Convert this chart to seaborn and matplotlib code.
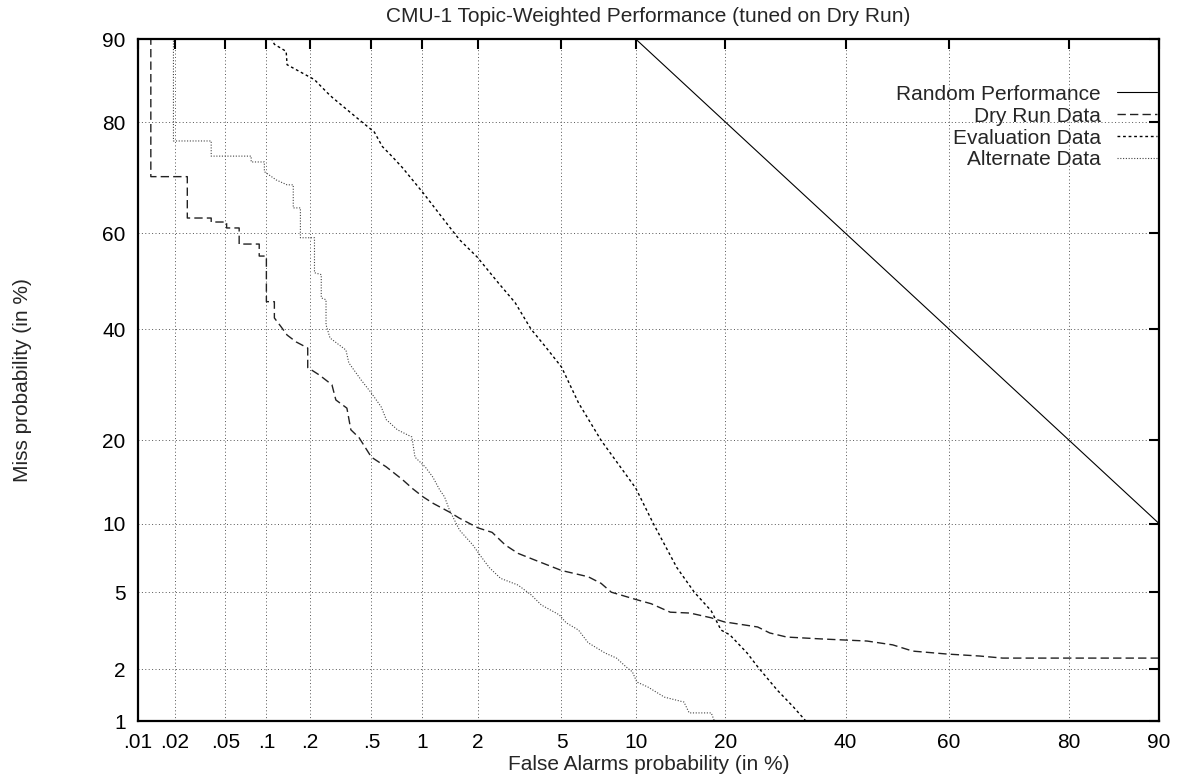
"""DET curve: CMU-1 topic-weighted performance, normal-deviate (probit) axes."""

from statistics import NormalDist

import numpy as np
import matplotlib

matplotlib.use("Agg")
import matplotlib.pyplot as plt
import matplotlib.ticker as mticker
import seaborn as sns

# values in percent
random_fa = [10, 90]
random_miss = [90, 10]

dry_fa = [0.0128, 0.0128, 0.0253, 0.0253, 0.0389, 0.0389, 0.051, 0.051, 0.0633, 0.0633,
          0.0888, 0.0888, 0.1, 0.1, 0.114, 0.114, 0.127, 0.140, 0.162, 0.194,
          0.194, 0.232, 0.281, 0.298, 0.351, 0.372, 0.419, 0.5, 0.616, 0.768,
          0.883, 1.01, 1.15, 1.414, 1.60, 2.0, 2.36, 2.74, 3.16, 3.81,
          5.0, 6.5, 7.34, 8.06, 10.1, 11.4, 13.3, 15.5, 18.1, 19.8,
          24.7, 26.6, 29.4, 35.8, 44.1, 49.1, 53.0, 59.6, 65.7, 69.7, 90]
dry_miss = [99, 71.0, 71.0, 63.1, 63.1, 62.3, 62.3, 61.1, 61.1, 57.8,
            57.8, 55.3, 55.3, 45.7, 45.7, 42.3, 40.5, 38.8, 37.4, 36.2,
            32.4, 31.0, 29.2, 26.5, 25.1, 21.6, 20.4, 17.6, 16.3, 14.7,
            13.6, 12.7, 12.0, 11.1, 10.5, 9.6, 9.2, 8.15, 7.5, 7.0,
            6.3, 5.9, 5.5, 5.0, 4.6, 4.4, 4.0, 3.96, 3.75, 3.58,
            3.37, 3.14, 2.99, 2.92, 2.85, 2.72, 2.52, 2.43, 2.37, 2.31, 2.31]

eval_fa = [0.1, 0.114, 0.138, 0.140, 0.2, 0.215, 0.261, 0.281, 0.321, 0.438,
           0.521, 0.583, 0.669, 0.768, 1.01, 1.414, 1.60, 1.98, 2.54, 3.06,
           3.64, 4.25, 5.0, 5.92, 7.34, 10.0, 11.6, 14.0, 16.0, 18.1,
           19.4, 20.6, 23.1, 24.7, 27.8, 30.5, 32.7]
eval_miss = [91, 89.5, 88.8, 87.4, 86.0, 85.7, 84.1, 83.5, 82.5, 80.0,
             78.5, 76.2, 74.5, 72.6, 68.0, 61.3, 58.7, 55.1, 49.6, 45.5,
             40.0, 36.4, 32.5, 26.0, 20.0, 13.7, 10.0, 6.5, 5.0, 4.06,
             3.25, 3.07, 2.46, 2.07, 1.53, 1.22, 1.0]

alt_fa = [0.0196, 0.0196, 0.0389, 0.0389, 0.0776, 0.0776, 0.0967, 0.0967, 0.1175, 0.140,
          0.1545, 0.1545, 0.173, 0.173, 0.2154, 0.2154, 0.239, 0.239, 0.257, 0.257,
          0.273, 0.346, 0.361, 0.431, 0.5, 0.574, 0.616, 0.717, 0.871, 0.908,
          1.038, 1.146, 1.249, 1.329, 1.414, 1.60, 1.88, 2.04, 2.28, 2.60,
          3.16, 3.64, 4.06, 4.89, 5.24, 5.92, 6.50, 7.62, 8.45, 9.19,
          9.72, 10.1, 11.1, 12.7, 14.8, 15.4, 18.1, 18.7]
alt_miss = [99, 77.1, 77.1, 74.6, 74.6, 73.6, 73.6, 71.9, 70.4, 69.5,
            69.5, 65.1, 65.1, 59.1, 59.1, 51.8, 51.4, 46.5, 46.1, 40.9,
            38.2, 35.8, 33.3, 30.1, 27.7, 25.3, 23.2, 21.6, 20.5, 17.6,
            16.3, 15.0, 13.5, 12.7, 11.3, 9.4, 8.15, 7.4, 6.5, 5.8,
            5.4, 4.86, 4.34, 3.88, 3.54, 3.25, 2.79, 2.46, 2.31, 2.07,
            1.94, 1.70, 1.59, 1.39, 1.30, 1.12, 1.12, 0.95]

x_ticks = [0.01, 0.02, 0.05, 0.1, 0.2, 0.5, 1, 2, 5, 10, 20, 40, 60, 80, 90]
x_labels = [".01", ".02", ".05", ".1", ".2", ".5", "1", "2", "5", "10", "20", "40", "60", "80", "90"]
y_ticks = [1, 2, 5, 10, 20, 40, 60, 80, 90]
y_labels = ["1", "2", "5", "10", "20", "40", "60", "80", "90"]

_nd = NormalDist()
_ppf = np.vectorize(_nd.inv_cdf, otypes=[float])
_cdf = np.vectorize(_nd.cdf, otypes=[float])


def probit(p):
    p = np.clip(np.asarray(p, dtype=float) / 100.0, 1e-9, 1 - 1e-9)
    return _ppf(p)


def inv_probit(z):
    return 100.0 * _cdf(np.asarray(z, dtype=float))


sns.set_theme(style="white")
plt.rcParams["font.family"] = ["Liberation Sans", "DejaVu Sans"]

fig = plt.figure(figsize=(11.8, 7.82), dpi=100)
ax = fig.add_axes([138 / 1180, 1 - 721 / 782, 1021 / 1180, 682 / 782])

sns.lineplot(x=random_fa, y=random_miss, ax=ax, sort=False, estimator=None,
             color="black", lw=0.8, label="Random Performance")
sns.lineplot(x=dry_fa, y=dry_miss, ax=ax, sort=False, estimator=None,
             color="#222222", lw=1.0, linestyle=(0, (6, 3)), label="Dry Run Data")
sns.lineplot(x=eval_fa, y=eval_miss, ax=ax, sort=False, estimator=None,
             color="black", lw=1.0, linestyle=(0, (2, 2)), label="Evaluation Data")
sns.lineplot(x=alt_fa, y=alt_miss, ax=ax, sort=False, estimator=None,
             color="#444444", lw=0.8, linestyle=(0, (1, 1.5)), label="Alternate Data")

ax.set_xscale("function", functions=(probit, inv_probit))
ax.set_yscale("function", functions=(probit, inv_probit))
ax.set_xlim(0.01, 90)
ax.set_ylim(1, 90)
ax.set_xticks(x_ticks)
ax.set_xticklabels(x_labels)
ax.set_yticks(y_ticks)
ax.set_yticklabels(y_labels)
ax.xaxis.set_minor_locator(mticker.NullLocator())
ax.yaxis.set_minor_locator(mticker.NullLocator())

ax.grid(True, color="#555555", lw=0.7, linestyle=(0, (1, 2.5)))
ax.tick_params(direction="in", length=7, width=1.5, top=True, right=True,
               labelsize=15, pad=9, colors="black")
for s in ax.spines.values():
    s.set_color("black")
    s.set_linewidth(1.6)

ax.set_title("CMU-1 Topic-Weighted Performance (tuned on Dry Run)", fontsize=15, pad=12)
ax.set_xlabel("False Alarms probability (in %)", fontsize=15)
ax.set_ylabel("Miss probability (in %)", fontsize=15)
ax.xaxis.set_label_coords(0.5, -0.05)
ax.yaxis.set_label_coords(-0.104, 0.5)

ax.legend(loc="upper right", bbox_to_anchor=(0.998, 0.933), markerfirst=False, frameon=False,
          fontsize=15, handlelength=1.9, handletextpad=0.8, labelspacing=0.14,
          borderpad=0, borderaxespad=0)

fig.savefig("out.png", dpi=100)
plt.close(fig)
